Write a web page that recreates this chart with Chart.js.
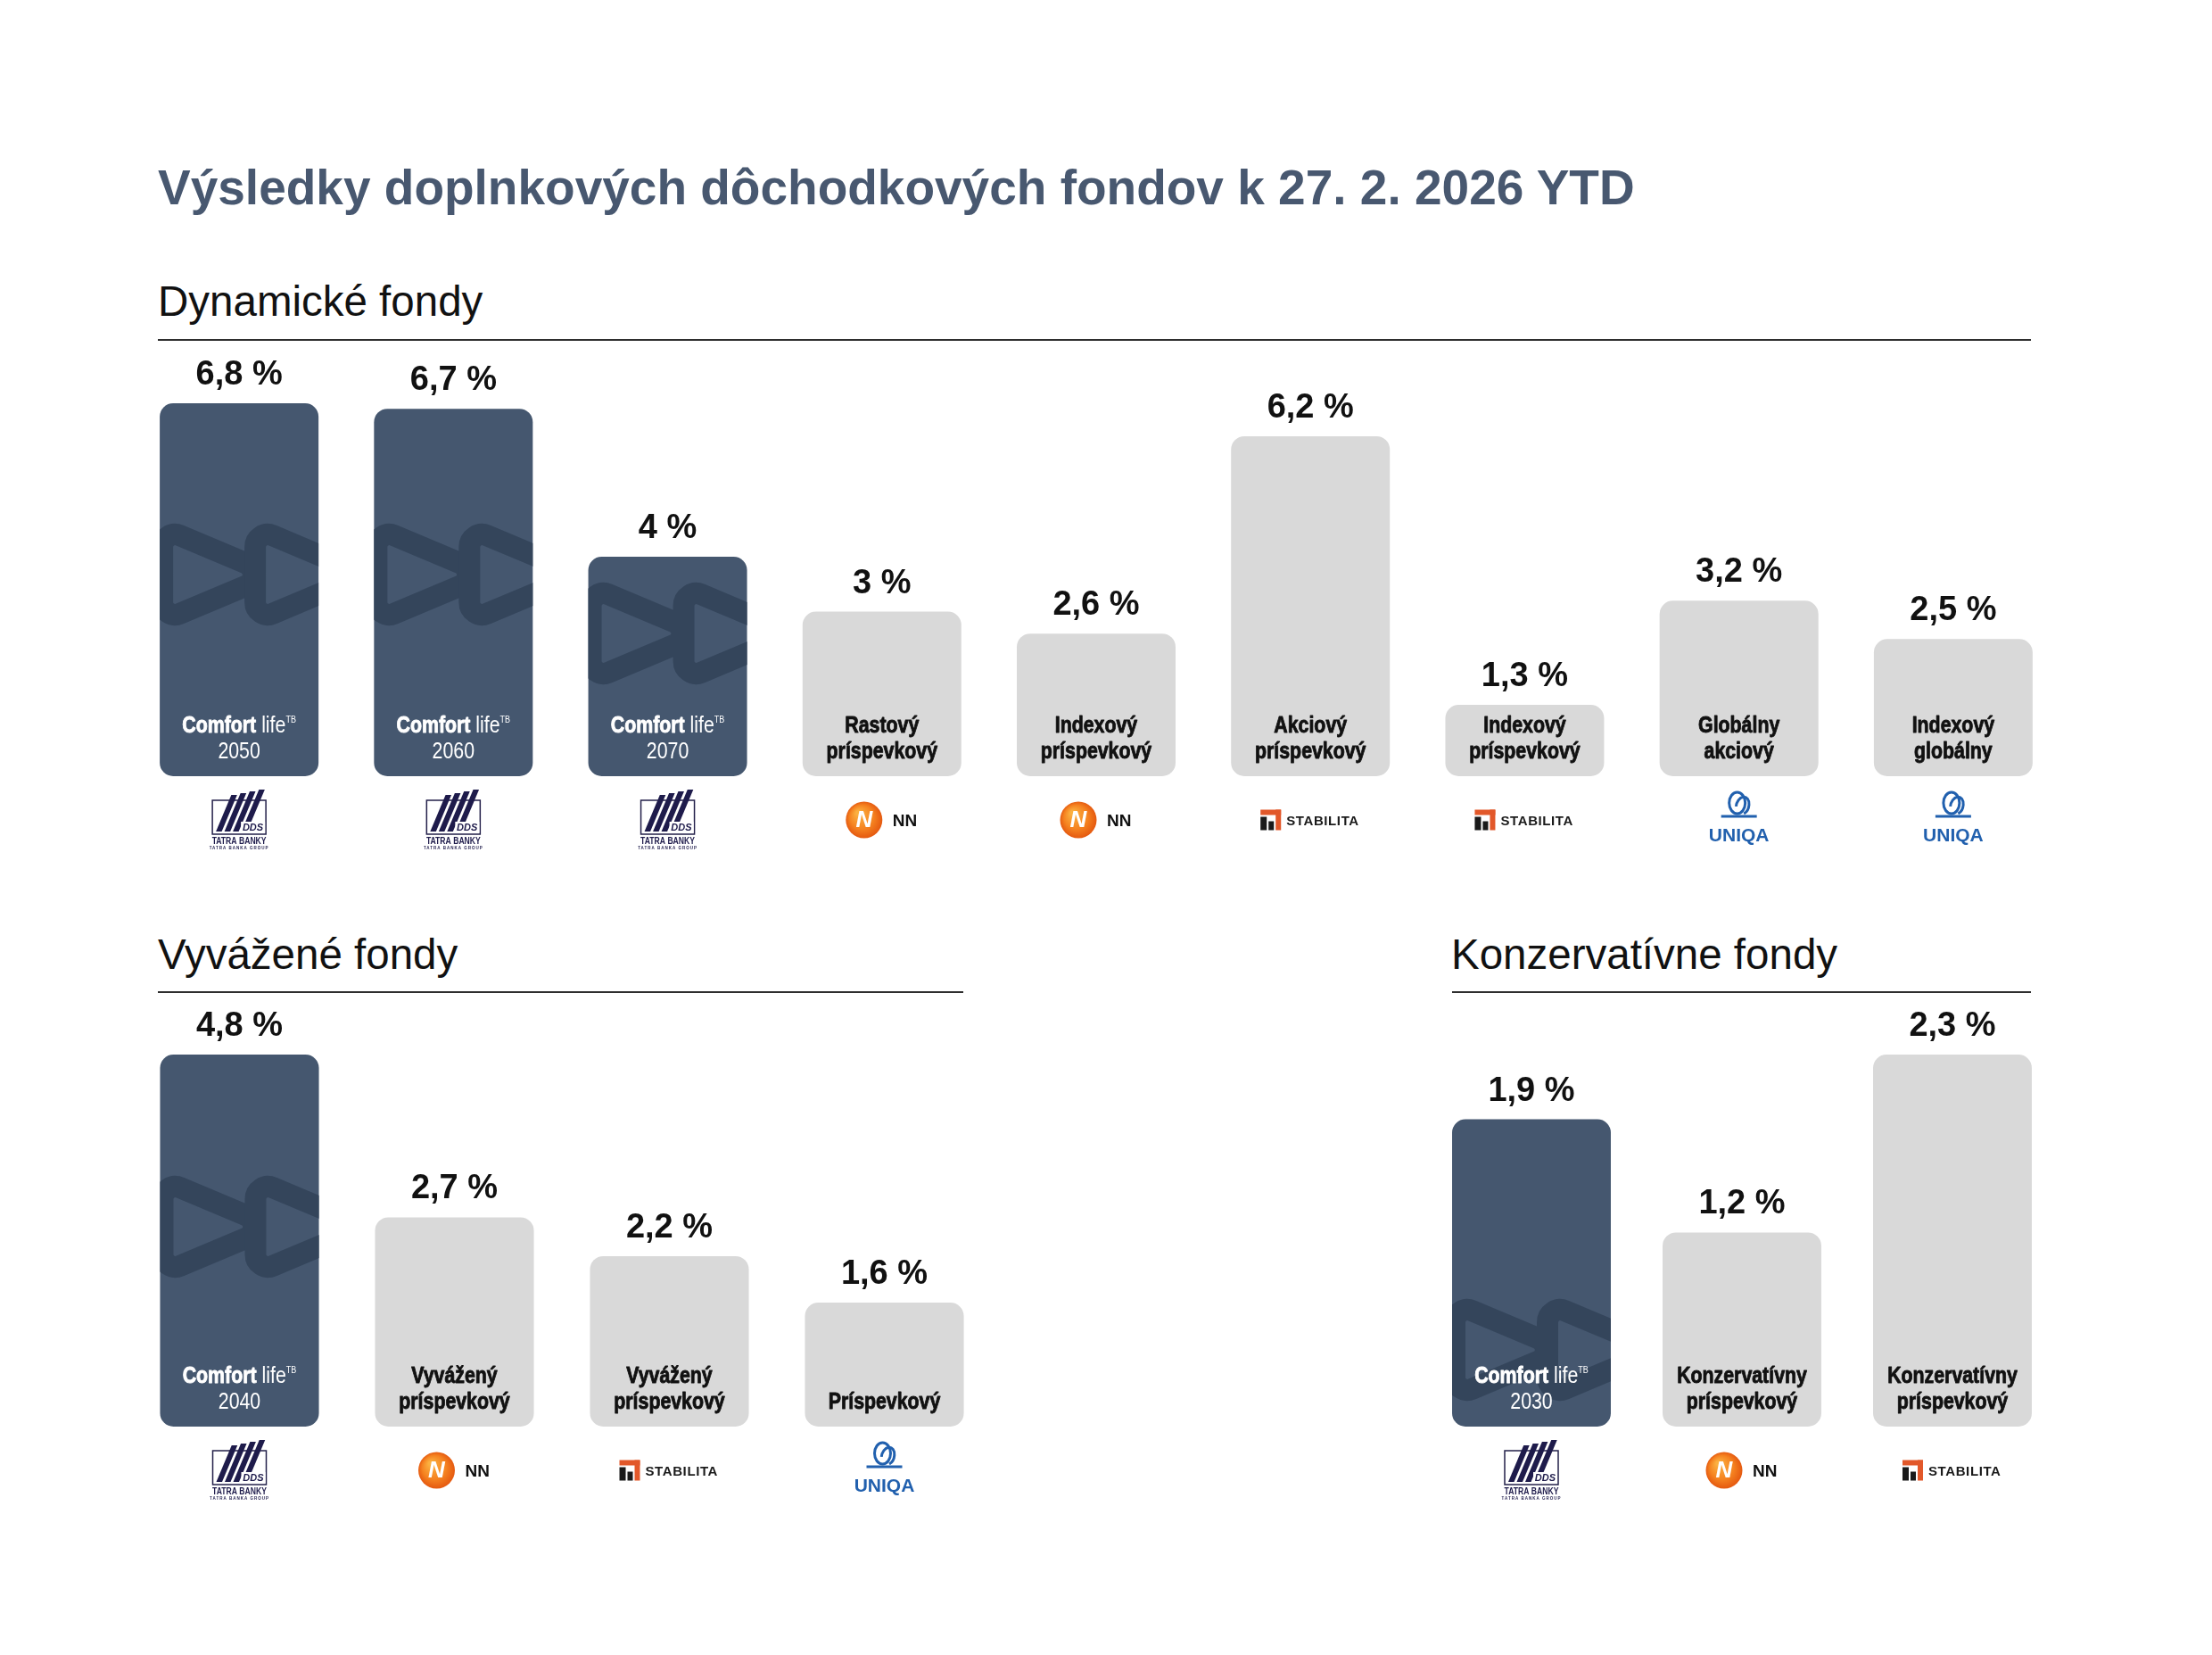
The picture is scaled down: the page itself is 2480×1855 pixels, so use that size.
<!DOCTYPE html>
<html>
<head>
<meta charset="utf-8">
<script src="https://cdn.jsdelivr.net/npm/chart.js@4.4.1/dist/chart.umd.min.js"></script>
<style>
  html,body{margin:0;padding:0;background:#fff;}
  body{width:2480px;height:1855px;position:relative;overflow:hidden;font-family:"Liberation Sans",Arial,sans-serif;}
  .t{position:absolute;white-space:nowrap;line-height:1;}
  #title{left:177px;top:183px;font-size:55px;font-weight:bold;color:#485870;}
  .h{font-size:47.5px;color:#111;}
  .rule{position:absolute;height:2px;background:#2e2e2e;}
  canvas{position:absolute;left:0;top:0;}
</style>
</head>
<body>
<div class="t" id="title">Výsledky doplnkových dôchodkových fondov k 27. 2. 2026 YTD</div>
<div class="t h" style="left:177px;top:314px;">Dynamické fondy</div>
<div class="rule" style="left:177px;top:380px;width:2100px;"></div>
<div class="t h" style="left:177px;top:1046px;">Vyvážené fondy</div>
<div class="rule" style="left:177px;top:1111px;width:903px;"></div>
<div class="t h" style="left:1627px;top:1046px;">Konzervatívne fondy</div>
<div class="rule" style="left:1628px;top:1111px;width:649px;"></div>

<canvas id="cDyn" width="2480" height="1855"></canvas>
<canvas id="cBal" width="2480" height="1855"></canvas>
<canvas id="cCon" width="2480" height="1855"></canvas>

<script>
// ---------- DATA ----------
const dynamicCategories = [
  ['Comfort life','2050'], ['Comfort life','2060'], ['Comfort life','2070'],
  ['Rastový','príspevkový'], ['Indexový','príspevkový'], ['Akciový','príspevkový'],
  ['Indexový','príspevkový'], ['Globálny','akciový'], ['Indexový','globálny']
];
const dynamicValues = [6.8, 6.7, 4, 3, 2.6, 6.2, 1.3, 3.2, 2.5];
const dynamicProviders = ['TATRA','TATRA','TATRA','NN','NN','STABILITA','STABILITA','UNIQA','UNIQA'];

const balancedCategories = [
  ['Comfort life','2040'], ['Vyvážený','príspevkový'], ['Vyvážený','príspevkový'], ['Príspevkový']
];
const balancedValues = [4.8, 2.7, 2.2, 1.6];
const balancedProviders = ['TATRA','NN','STABILITA','UNIQA'];

const conservativeCategories = [
  ['Comfort life','2030'], ['Konzervatívny','príspevkový'], ['Konzervatívny','príspevkový']
];
const conservativeValues = [1.9, 1.2, 2.3];
const conservativeProviders = ['TATRA','NN','STABILITA'];

// ---------- STYLE ----------
const DARK = '#45576f';
const EMBLEM = '#34455b';
const LIGHT = '#d9d9d9';
const SANS = '"Liberation Sans",Arial,sans-serif';
const NARROW_X = 0.82;
const RADIUS = 15;

function fmt(v){ return String(v).replace('.', ',') + ' %'; }

// condensed text: Liberation Sans squeezed horizontally
function narrowWidth(ctx, text, font){ ctx.save(); ctx.font = font; const w = ctx.measureText(text).width * NARROW_X; ctx.restore(); return w; }
function fillNarrow(ctx, text, x, y, font, align, heavy){
  ctx.save(); ctx.translate(x, y); ctx.scale(NARROW_X, 1);
  ctx.font = font; ctx.textAlign = align || 'center'; ctx.textBaseline = 'alphabetic';
  ctx.fillText(text, 0, 0);
  if (heavy) { ctx.strokeStyle = ctx.fillStyle; ctx.lineWidth = heavy; ctx.lineJoin = 'round'; ctx.strokeText(text, 0, 0); }
  ctx.restore();
}

function roundedTri(ctx, pts, r){
  const n = pts.length;
  ctx.beginPath();
  const mid = (a, b) => [(a[0] + b[0]) / 2, (a[1] + b[1]) / 2];
  const s = mid(pts[n - 1], pts[0]);
  ctx.moveTo(s[0], s[1]);
  for (let i = 0; i < n; i++) {
    const p = pts[i], q = pts[(i + 1) % n];
    ctx.arcTo(p[0], p[1], q[0], q[1], r);
  }
  ctx.closePath();
}

function drawEmblem(ctx, left, top, w, h, bottom, cyFromBottom){
  ctx.save();
  ctx.beginPath(); ctx.roundRect(left, top, w, h, RADIUS); ctx.clip();
  const cy = bottom - cyFromBottom;
  ctx.strokeStyle = EMBLEM; ctx.lineWidth = 24; ctx.lineJoin = 'round';
  for (const x0 of [left + 3, left + 107]) {
    roundedTri(ctx, [[x0, cy - 52], [x0 + 124, cy], [x0, cy + 52]], 14);
    ctx.stroke();
  }
  ctx.restore();
}

function drawTatra(ctx, cx, cy){
  ctx.save();
  const bw = 60, bh = 38, bx = cx - 30, by = cy - 22;
  ctx.strokeStyle = '#23204a'; ctx.lineWidth = 1.5;
  ctx.strokeRect(bx, by, bw, bh);
  ctx.fillStyle = '#1e1b4b';
  for (let i = 0; i < 4; i++) {
    const xb = bx + 4 + i * 9.5, yb = by + bh - 3, yt = by - 6 - i * 2;
    const dx = (yb - yt) * 0.42;
    ctx.beginPath();
    ctx.moveTo(xb, yb); ctx.lineTo(xb + 6.5, yb); ctx.lineTo(xb + 6.5 + dx, yt); ctx.lineTo(xb + dx, yt); ctx.closePath();
    ctx.fill();
  }
  ctx.fillStyle = '#fff';
  ctx.fillRect(bx + 32, by + bh - 14, bw - 33, 12.5);
  ctx.fillStyle = '#1e1b4b';
  ctx.font = 'italic bold 11px ' + SANS; ctx.textAlign = 'right'; ctx.textBaseline = 'alphabetic';
  ctx.fillText('DDS', bx + bw - 3, by + bh - 4);
  fillNarrow(ctx, 'TATRA BANKY', cx, by + bh + 11, 'bold 10.5px ' + SANS, 'center');
  ctx.font = 'bold 4.5px ' + SANS; ctx.textAlign = 'center';
  ctx.letterSpacing = '1px';
  ctx.fillText('TATRA BANKA GROUP', cx, by + bh + 17);
  ctx.restore();
}

function drawNN(ctx, cx, cy){
  ctx.save();
  const ox = cx - 20;
  const g = ctx.createRadialGradient(ox - 7, cy - 8, 2, ox, cy, 21);
  g.addColorStop(0, '#fbb040'); g.addColorStop(0.6, '#f58220'); g.addColorStop(1, '#e4570f');
  ctx.fillStyle = g;
  ctx.beginPath(); ctx.arc(ox, cy, 20.5, 0, Math.PI * 2); ctx.fill();
  ctx.fillStyle = '#fff';
  ctx.font = 'italic bold 26px ' + SANS; ctx.textAlign = 'center'; ctx.textBaseline = 'middle';
  ctx.fillText('N', ox, cy + 1);
  ctx.fillStyle = '#111';
  ctx.font = 'bold 19px ' + SANS; ctx.textAlign = 'left'; ctx.textBaseline = 'alphabetic';
  ctx.fillText('NN', cx + 12, cy + 7);
  ctx.restore();
}

function drawStabilita(ctx, cx, cy){
  ctx.save();
  const x0 = cx - 56, y0 = cy - 11.5, s = 23;
  ctx.fillStyle = '#e2582a';
  ctx.fillRect(x0, y0, s, 6);
  ctx.fillRect(x0 + s - 6, y0, 6, s);
  ctx.fillStyle = '#1a1a1a';
  ctx.fillRect(x0, y0 + 8, 7, s - 8);
  ctx.fillRect(x0 + 9, y0 + 13, 6, s - 13);
  ctx.font = 'bold 15px ' + SANS; ctx.textAlign = 'left'; ctx.textBaseline = 'alphabetic';
  ctx.letterSpacing = '0.6px';
  ctx.fillText('STABILITA', x0 + 29, cy + 5.5);
  ctx.restore();
}

function drawUniqa(ctx, cx, cy){
  ctx.save();
  const col = '#2160ae';
  ctx.strokeStyle = col; ctx.lineWidth = 3;
  ctx.beginPath(); ctx.ellipse(cx - 2, cy - 19, 9, 12, 0, 0, Math.PI * 2); ctx.stroke();
  ctx.beginPath(); ctx.ellipse(cx + 4, cy - 16, 7, 10, 0.3, Math.PI * 0.9, Math.PI * 2.3); ctx.stroke();
  ctx.beginPath(); ctx.moveTo(cx - 20, cy - 4); ctx.lineTo(cx + 20, cy - 4); ctx.stroke();
  ctx.fillStyle = col;
  ctx.font = 'bold 21px ' + SANS; ctx.textAlign = 'center'; ctx.textBaseline = 'alphabetic';
  ctx.fillText('UNIQA', cx, cy + 24);
  ctx.restore();
}

const logoDrawers = {TATRA: drawTatra, NN: drawNN, STABILITA: drawStabilita, UNIQA: drawUniqa};

const decoPlugin = {
  id: 'fundDeco',
  afterDatasetsDraw(chart, args, opts) {
    const ctx = chart.ctx;
    const meta = chart.getDatasetMeta(0);
    const ds = chart.data.datasets[0];
    const providers = opts.providers;
    const offs = opts.emblemOffsets || {};
    meta.data.forEach((bar, i) => {
      const p = bar.getProps(['x','y','base','width'], true);
      const left = p.x - p.width / 2, top = p.y, bottom = p.base, w = p.width, h = bottom - top;
      const isTB = providers[i] === 'TATRA';
      if (isTB && offs[i] != null) drawEmblem(ctx, left, top, w, h, bottom, offs[i]);

      // value label
      ctx.save();
      ctx.fillStyle = '#111'; ctx.textAlign = 'center'; ctx.textBaseline = 'alphabetic';
      ctx.font = 'bold 38px ' + SANS;
      ctx.fillText(fmt(ds.data[i]), p.x, top - 21);
      ctx.restore();

      // inner labels
      const lines = chart.data.labels[i];
      ctx.save();
      const y2 = bottom - 20, y1 = bottom - 49;
      if (isTB) {
        ctx.fillStyle = '#fff';
        const [w1, w2] = lines[0].split(' ');
        const fB = 'bold 26px ' + SANS, fR = '26px ' + SANS, fS = '11px ' + SANS;
        const a = narrowWidth(ctx, w1, fB), b = narrowWidth(ctx, ' ' + w2, fR), c = narrowWidth(ctx, 'TB', fS);
        let x = p.x - (a + b + c) / 2;
        fillNarrow(ctx, w1, x, y1, fB, 'left', 0.9); x += a;
        fillNarrow(ctx, ' ' + w2, x, y1, fR, 'left'); x += b;
        fillNarrow(ctx, 'TB', x, y1 - 11, fS, 'left');
        fillNarrow(ctx, lines[1], p.x, y2, fR, 'center');
      } else {
        ctx.fillStyle = '#111';
        const f = 'bold 26px ' + SANS;
        if (lines.length === 1) fillNarrow(ctx, lines[0], p.x, y2, f, 'center', 0.9);
        else { fillNarrow(ctx, lines[0], p.x, y1, f, 'center', 0.9); fillNarrow(ctx, lines[1], p.x, y2, f, 'center', 0.9); }
      }
      ctx.restore();

      // provider logo
      logoDrawers[providers[i]](ctx, p.x, bottom + 49);
    });
  }
};

function makeChart(id, categories, values, providers, padding, barPct, emblemOffsets) {
  return new Chart(document.getElementById(id), {
    type: 'bar',
    data: {
      labels: categories,
      datasets: [{
        data: values,
        backgroundColor: providers.map(p => p === 'TATRA' ? DARK : LIGHT),
        borderRadius: RADIUS,
        borderSkipped: false,
        barPercentage: barPct,
        categoryPercentage: 1
      }]
    },
    options: {
      responsive: false,
      animation: false,
      events: [],
      layout: { padding },
      scales: {
        x: { display: false },
        y: { display: false, min: 0, max: Math.max(...values) }
      },
      plugins: {
        legend: { display: false },
        tooltip: { enabled: false },
        fundDeco: { providers, emblemOffsets }
      }
    },
    plugins: [decoPlugin]
  });
}

makeChart('cDyn', dynamicCategories, dynamicValues, dynamicProviders,
  {left: 148, right: 170, top: 452, bottom: 985}, 0.741, {0: 226, 1: 226, 2: 160});
makeChart('cBal', balancedCategories, balancedValues, balancedProviders,
  {left: 148, right: 1368, top: 1182, bottom: 256}, 0.739, {0: 224});
makeChart('cCon', conservativeCategories, conservativeValues, conservativeProviders,
  {left: 1599, right: 173, top: 1182, bottom: 256}, 0.754, {0: 86});
</script>
</body>
</html>
